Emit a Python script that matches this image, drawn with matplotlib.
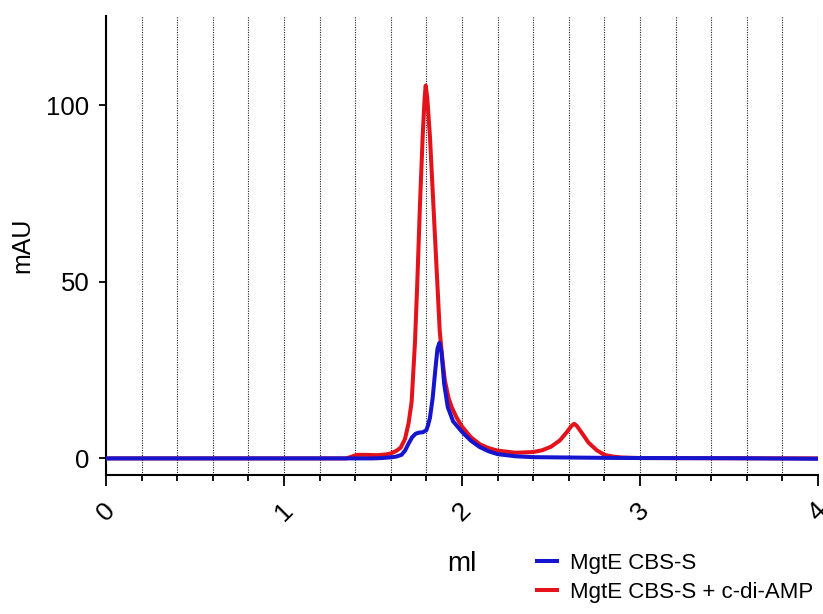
import matplotlib
matplotlib.use("Agg")
import matplotlib.pyplot as plt
from matplotlib.ticker import MultipleLocator

plt.rcParams['font.family'] = ['Liberation Sans', 'DejaVu Sans']

# MgtE CBS-S (blue)
blue_x = [0.0, 1.50, 1.55, 1.60, 1.63, 1.66, 1.68, 1.70, 1.72, 1.74, 1.76, 1.78,
          1.80, 1.81, 1.82, 1.835, 1.85, 1.862, 1.873, 1.885, 1.90, 1.92, 1.95,
          2.00, 2.05, 2.10, 2.15, 2.20, 2.30, 2.40, 2.60, 2.80, 3.00, 3.50, 4.00]
blue_y = [0.0, 0.0, 0.1, 0.3, 0.5, 1.0, 2.2, 4.2, 6.0, 7.0, 7.3, 7.4,
          8.0, 9.5, 11.5, 17.0, 25.0, 31.0, 32.7, 30.0, 21.0, 14.5, 10.5,
          7.5, 5.0, 3.2, 2.0, 1.2, 0.6, 0.35, 0.25, 0.15, 0.1, 0.05, -0.1]

# MgtE CBS-S + c-di-AMP (red)
red_x = [0.0, 1.35, 1.38, 1.41, 1.46, 1.52, 1.57, 1.60, 1.63, 1.655, 1.68, 1.70,
         1.717, 1.736, 1.749, 1.764, 1.779, 1.79, 1.796, 1.805, 1.82, 1.839,
         1.858, 1.875, 1.89, 1.904, 1.925, 1.942, 1.97, 2.00, 2.05, 2.10, 2.15,
         2.20, 2.30, 2.40, 2.45, 2.50, 2.55, 2.59, 2.615, 2.63, 2.645, 2.672,
         2.71, 2.757, 2.80, 2.85, 2.90, 3.00, 4.00]
red_y = [0.0, 0.0, 0.5, 1.0, 1.0, 0.9, 1.1, 1.4, 2.1, 3.0, 5.5, 10.0,
         16.0, 33.0, 50.0, 72.0, 91.0, 102.0, 105.5, 102.0, 91.0, 72.0,
         53.0, 36.0, 28.0, 22.0, 17.0, 14.5, 11.5, 9.0, 6.0, 4.0, 2.9,
         2.2, 1.6, 1.8, 2.3, 3.3, 5.1, 7.5, 9.2, 9.8, 9.2, 7.3,
         4.5, 2.3, 1.0, 0.5, 0.25, 0.1, 0.0]

series_labels = ["MgtE CBS-S", "MgtE CBS-S + c-di-AMP"]
x_ticks = [0, 1, 2, 3, 4]
y_ticks = [0, 50, 100]

fig = plt.figure(figsize=(8.23, 6.14), dpi=100)
ax = fig.add_axes([106 / 823, 1 - 475 / 614, (818 - 106) / 823, (475 - 16) / 614])

red_line, = ax.plot(red_x, red_y, color='#e3121b', lw=2.9, zorder=3)
blue_line, = ax.plot(blue_x, blue_y, color='#1515d0', lw=2.9, zorder=4)

ax.set_xlim(0, 4)
ax.set_ylim(-4.7, 125.2)
ax.set_xticks(x_ticks)
ax.set_xticklabels([str(t) for t in x_ticks], rotation=45, fontsize=19)
ax.xaxis.set_minor_locator(MultipleLocator(0.2))
ax.set_yticks(y_ticks)
ax.set_yticklabels([str(t) for t in y_ticks], fontsize=18.5)

ax.grid(True, which='both', axis='x', linestyle=(0, (1, 1.2)), color='#222222', lw=0.8)
ax.set_axisbelow(True)

for s in ['top', 'right']:
    ax.spines[s].set_visible(False)
for s in ['left', 'bottom']:
    ax.spines[s].set_linewidth(1.5)

ax.tick_params(axis='x', which='major', length=8, width=1.3, pad=9)
ax.tick_params(axis='x', which='minor', length=4.5, width=1.3)
ax.tick_params(axis='y', which='major', length=5, width=1.3, pad=7)

ax.set_ylabel('mAU', fontsize=18)
ax.yaxis.set_label_coords(-0.10, 0.5)
ax.set_xlabel('ml', fontsize=20)
ax.xaxis.set_label_coords(0.5, -0.165)

fig.legend([blue_line, red_line], series_labels, loc='upper left',
           bbox_to_anchor=(537 / 823, 1 - 553 / 614), frameon=False,
           fontsize=16, handlelength=0.9, handletextpad=0.6,
           borderpad=0, borderaxespad=0, labelspacing=0.35)

fig.savefig('out.png', dpi=100)
